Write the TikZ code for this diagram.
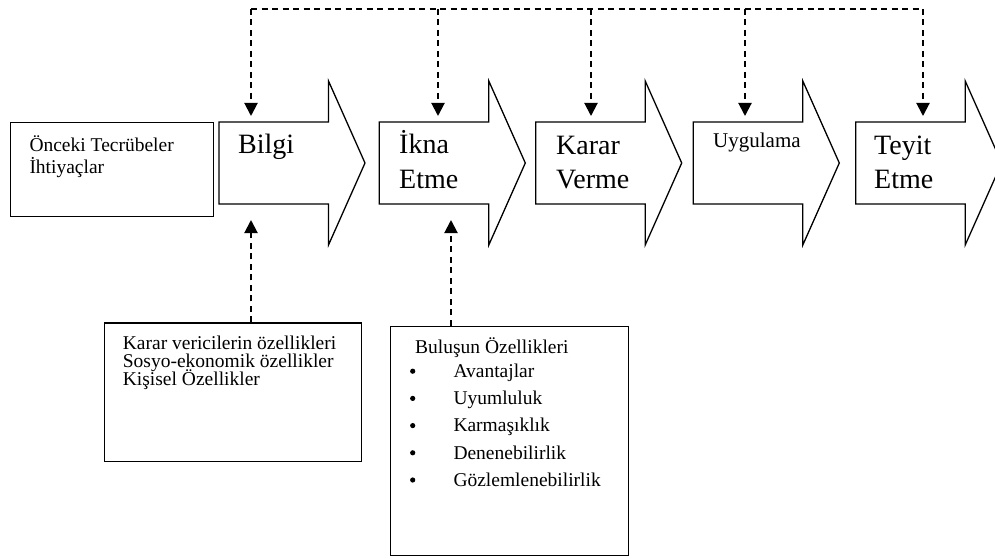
\documentclass[tikz,border=0pt]{standalone}
\usepackage{fontspec}
\setmainfont{Liberation Serif}
\usetikzlibrary{arrows.meta}
% keep a fixed baseline distance regardless of accents and descenders
\newcommand{\fixedlines}{\lineskiplimit=-100pt\relax\lineskip=0pt\relax}

\begin{document}
\begin{tikzpicture}[
  x=1pt, y=-1pt,
  stagearrow/.style={draw=black, line width=1.3pt, line join=miter, fill=white},
  plainbox/.style={draw=black, line width=1.3pt, fill=white},
  bigtext/.style={anchor=base west, inner sep=0pt, align=left, font=\fontsize{28}{34.5}\selectfont\fixedlines},
  midtext/.style={anchor=base west, inner sep=0pt, font=\fontsize{21}{25}\selectfont},
  smalltext/.style={anchor=base west, inner sep=0pt, align=left, font=\fontsize{19.5}{22}\selectfont\fixedlines},
  bus/.style={line width=2pt, dash pattern=on 6pt off 4.5pt},
  feed/.style={bus, -{Triangle[length=13pt,width=13pt]}},
]
\clip (0,0) rectangle (995,559);
\fill[white] (0,0) rectangle (995,559);

% five stage arrows: body 109.5 x 82, head 36.5 long and 164 tall
\foreach \L [count=\i] in {219,379.3,535.7,693.3,855.7}{
  \draw[stagearrow] (\L,122) -- ++(109.5,0) -- ++(0,-41) -- ++(36.5,82)
    -- ++(-36.5,82) -- ++(0,-41) -- ++(-109.5,0) -- cycle;
  \coordinate (stage\i) at (\L,122);
}

% stage labels (multi-line nodes sit on the baseline of their last line)
\node[bigtext] (bilgi) at (238,153) {Bilgi};
\node[bigtext] (ikna)  at (399,188) {İkna\\Etme};
\node[bigtext] (karar) at (556,188.5) {Karar\\Verme};
\node[midtext] (uyg)   at (713,147) {Uygulama};
\node[bigtext] (teyit) at (874,188.5) {Teyit\\Etme};

% left input box
\node[plainbox, anchor=north west, minimum width=202.7pt, minimum height=94pt, inner sep=0pt] (prior) at (10,122) {};
\node[smalltext] (priortext) at (29.3,173.3) {Önceki Tecrübeler\\İhtiyaçlar};

% decision-maker characteristics box
\node[plainbox, anchor=north west, minimum width=257pt, minimum height=138.4pt, inner sep=0pt] (makers) at (104,322.3) {};
\node[smalltext, font=\fontsize{19.5}{18}\selectfont\fixedlines] (makerstext) at (122.7,385.3)
  {Karar vericilerin özellikleri\\Sosyo-ekonomik özellikler\\Kişisel Özellikler};

% innovation characteristics box
\node[plainbox, anchor=north west, minimum width=237.7pt, minimum height=229.3pt, inner sep=0pt] (innov) at (390,325.7) {};
\node[smalltext] (innovhead) at (415,353.3) {Buluşun Özellikleri};
\foreach \t [count=\k] in {Avantajlar,Uyumluluk,Karmaşıklık,Denenebilirlik,Gözlemlenebilirlik}{
  \node[smalltext] (item\k) at (453.3,{350.3+27.2*\k}) {\t};
  \fill (412.7,{350.3+27.2*\k-6.3}) circle (2.6pt);
}

% feedback bus along the top
\coordinate (b1) at (251,9);
\coordinate (b2) at (438,9);
\coordinate (b3) at (591,9);
\coordinate (b4) at (745,9);
\coordinate (b5) at (923,9);
\coordinate (d1) at (251,116);
\coordinate (d2) at (438,116);
\coordinate (d3) at (591,116);
\coordinate (d4) at (745,116);
\coordinate (d5) at (923,116);
\draw[bus] (b1) -- (b5);
\foreach \i in {1,...,5}{
  \draw[feed] (b\i) -- (d\i);
}

% influences from below
\coordinate (u1) at (251,220);
\coordinate (u2) at (451,220);
\draw[feed] (makers.north -| u1) -- (u1);
\draw[feed] (innov.north -| u2) -- (u2);
\end{tikzpicture}
\end{document}
